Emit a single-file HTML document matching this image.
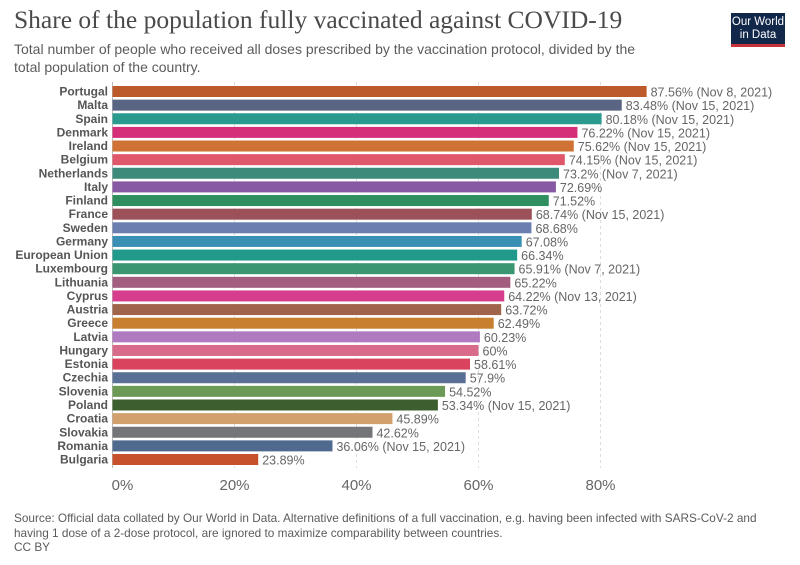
<!DOCTYPE html>
<html><head><meta charset="utf-8">
<style>
body{margin:0;background:#fff;width:800px;height:565px;overflow:hidden;font-family:"Liberation Sans",sans-serif;}
#title{position:absolute;left:14px;top:5px;font-family:"Liberation Serif",serif;font-size:25.5px;color:#4a4a4a;white-space:nowrap;}
#sub{position:absolute;left:14px;top:40px;width:650px;font-size:14px;color:#5b5b5b;line-height:18px;}
#logo{position:absolute;left:731px;top:13px;width:54px;height:34px;background:#12284a;border-bottom:3px solid #c8323a;color:#fff;font-size:11.5px;line-height:13px;text-align:center;padding-top:3px;box-sizing:border-box;}
#src{position:absolute;left:14px;top:511px;width:775px;font-size:11.8px;color:#5b5b5b;line-height:14.5px;}
svg{position:absolute;left:0;top:0;}
</style></head><body>
<div id="title">Share of the population fully vaccinated against COVID-19</div>
<div id="sub">Total number of people who received all doses prescribed by the vaccination protocol, divided by the total population of the country.</div>
<div id="logo">Our World<br>in Data</div>
<svg id="chart" width="800" height="565"></svg>
<div id="src">Source: Official data collated by Our World in Data. Alternative definitions of a full vaccination, e.g. having been infected with SARS-CoV-2 and having 1 dose of a 2-dose protocol, are ignored to maximize comparability between countries.<br>CC BY</div>
<script>
const countries=["Portugal","Malta","Spain","Denmark","Ireland","Belgium","Netherlands","Italy","Finland","France","Sweden","Germany","European Union","Luxembourg","Lithuania","Cyprus","Austria","Greece","Latvia","Hungary","Estonia","Czechia","Slovenia","Poland","Croatia","Slovakia","Romania","Bulgaria"];
const values=[87.56,83.48,80.18,76.22,75.62,74.15,73.2,72.69,71.52,68.74,68.68,67.08,66.34,65.91,65.22,64.22,63.72,62.49,60.23,60,58.61,57.9,54.52,53.34,45.89,42.62,36.06,23.89];
const notes=["Nov 8, 2021","Nov 15, 2021","Nov 15, 2021","Nov 15, 2021","Nov 15, 2021","Nov 15, 2021","Nov 7, 2021","","","Nov 15, 2021","","","","Nov 7, 2021","","Nov 13, 2021","","","","","","","","Nov 15, 2021","","","Nov 15, 2021",""];
const colors=["#bd5a2a","#5a6583","#2a9a8e","#d52f79","#cf7233","#e0566a","#3d8a7a","#8758a3","#2f8f5f","#9c5158","#6a7fb0","#3a8fb5","#229a8b","#3a9670","#a35d7e","#d73d8d","#a0644a","#c88030","#b07ac0","#d86a8a","#d9435e","#5a6f94","#6c9a56","#3d5e2f","#d2a06d","#737579","#4f6a8e","#c6512b"];
const ticks=[0,20,40,60,80];
const svg=document.getElementById('chart');const NS='http://www.w3.org/2000/svg';
const x0=112.5,pxPer=6.1,y0=86,step=13.63,bh=11;
function xs(v){return x0+v*pxPer;}
function ys(i){return y0+i*step;}
function mk(t,a){const e=document.createElementNS(NS,t);for(const k in a)e.setAttribute(k,a[k]);svg.appendChild(e);return e;}
ticks.forEach(t=>{
 const l=mk('line',{x1:xs(t),x2:xs(t),y1:82,y2:468,stroke:t===0?'#bbb':'#ddd','stroke-dasharray':t===0?'':'3,3'});
 
 
 const tx=mk('text',{x:xs(t)+(t===0?10:0),y:490,'text-anchor':'middle','font-size':'15','fill':'#666'});
 tx.textContent=t+'%';
 
 
});
countries.forEach((c,i)=>{
 const y=ys(i);
 const lb=mk('text',{x:108,y:y+bh-1.5,'text-anchor':'end','font-size':'12','font-weight':'bold','fill':'#555'});
 lb.textContent=c;
 
 
 const r=mk('rect',{x:x0,y:y,width:xs(values[i])-x0,height:bh,fill:colors[i]});
 
 
 const v=mk('text',{x:xs(values[i])+4,y:y+bh-0.5,'font-size':'12.5','fill':'#666'});
 v.textContent=values[i]+'%'+(notes[i]?' ('+notes[i]+')':'');
 
 
});
</script>
</body></html>
